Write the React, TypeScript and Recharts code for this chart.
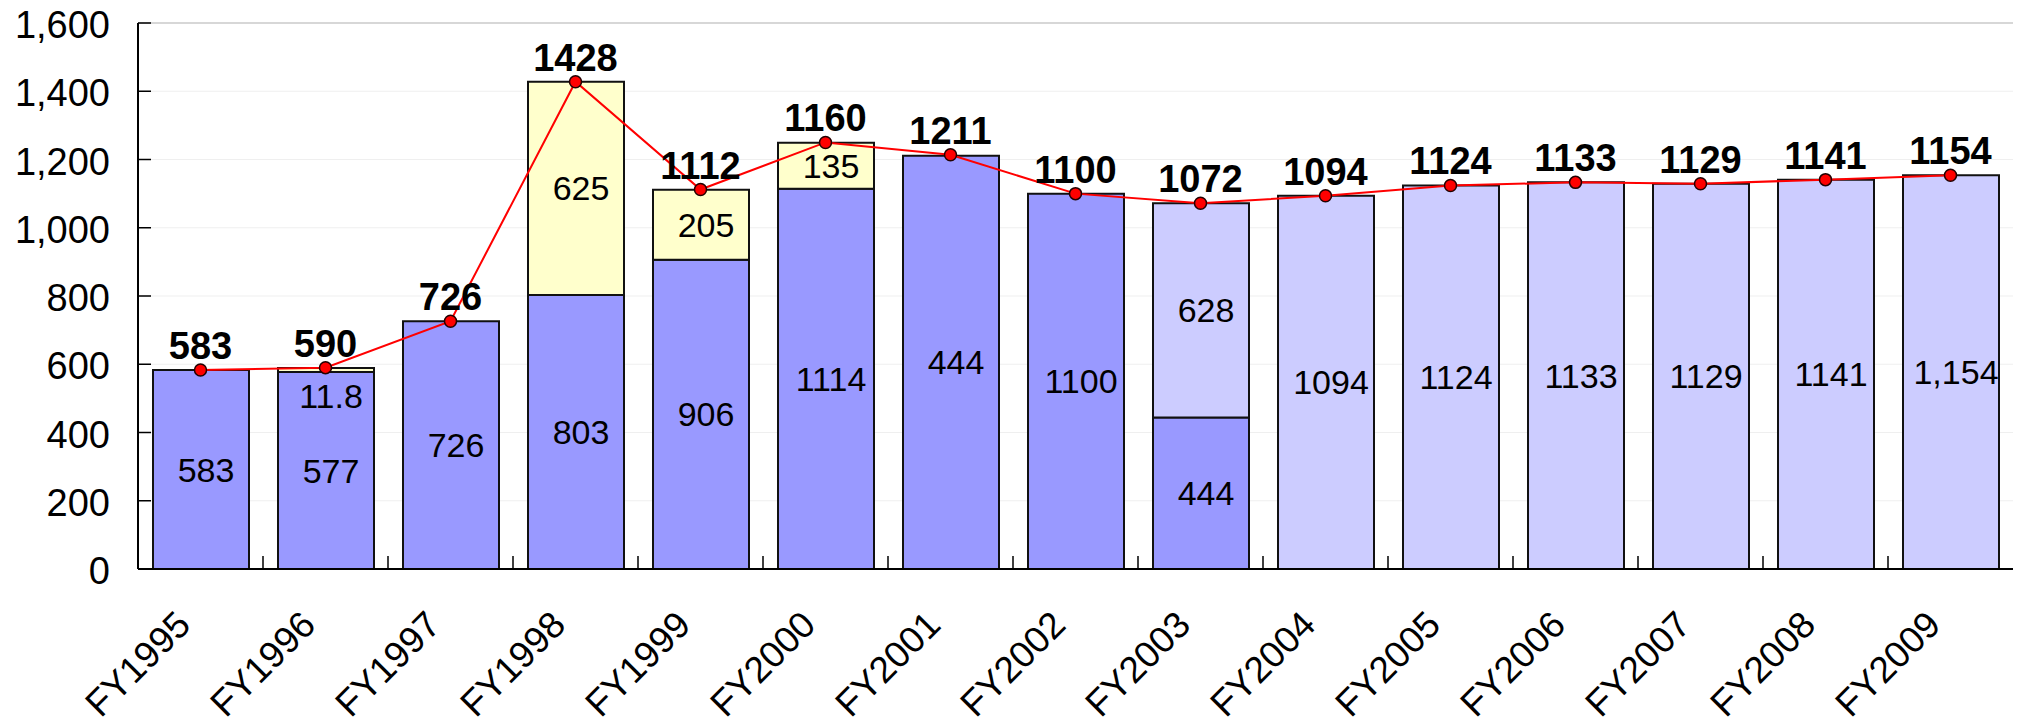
import React from 'react';
import {
  ComposedChart,
  Bar,
  Line,
  XAxis,
  YAxis,
  CartesianGrid,
  LabelList,
  ReferenceLine,
} from 'recharts';

const categories = [
  'FY1995', 'FY1996', 'FY1997', 'FY1998', 'FY1999', 'FY2000', 'FY2001', 'FY2002',
  'FY2003', 'FY2004', 'FY2005', 'FY2006', 'FY2007', 'FY2008', 'FY2009',
];

// dark blue segment
const baseValues: (number | null)[] = [583, 577, 726, 803, 906, 1114, 1211, 1100, 444, null, null, null, null, null, null];
const baseLabels = ['583', '577', '726', '803', '906', '1114', '444', '1100', '444', '', '', '', '', '', ''];

// pale yellow segment
const addedValues: (number | null)[] = [null, 11.8, null, 625, 205, 135, null, null, null, null, null, null, null, null, null];
const addedLabels = ['', '11.8', '', '625', '205', '135', '', '', '', '', '', '', '', '', ''];

// light lavender segment
const newValues: (number | null)[] = [null, null, null, null, null, null, null, null, 628, 1094, 1124, 1133, 1129, 1141, 1154];
const newLabels = ['', '', '', '', '', '', '', '', '628', '1094', '1124', '1133', '1129', '1141', '1,154'];

// red line
const totalValues = [583, 590, 726, 1428, 1112, 1250, 1214, 1100, 1072, 1094, 1124, 1133, 1129, 1141, 1154];
const totalLabels = ['583', '590', '726', '1428', '1112', '1160', '1211', '1100', '1072', '1094', '1124', '1133', '1129', '1141', '1154'];

const yTicks = [0, 200, 400, 600, 800, 1000, 1200, 1400, 1600];

const data = categories.map((c, i) => ({
  cat: c,
  base: baseValues[i],
  added: addedValues[i],
  fresh: newValues[i],
  total: totalValues[i],
  baseLabel: baseLabels[i],
  addedLabel: addedLabels[i],
  newLabel: newLabels[i],
  totalLabel: totalLabels[i],
}));

const CHART_W = 2037;
const CHART_H = 728;
const MARGIN = { top: 23, right: 24, bottom: 0, left: 0 };
const Y_AXIS_W = 138;
const PLOT_W = CHART_W - MARGIN.left - MARGIN.right - Y_AXIS_W;
const BAND = PLOT_W / categories.length;
const FONT = '"Liberation Sans", Arial, sans-serif';

const fmt = (v: number) => v.toLocaleString('en-US');

const YTick = (props: any) => {
  const { x, y, payload } = props;
  return (
    <g>
      <line x1={x} x2={x + 13} y1={y} y2={y} stroke="#000" strokeWidth={1.5} />
      <text x={x - 28} y={y + 15} textAnchor="end" fontSize={38} fontFamily={FONT} fill="#000">
        {fmt(payload.value)}
      </text>
    </g>
  );
};

const XTick = (props: any) => {
  const { x, y, payload, index } = props;
  const ax = x - 8;
  const ay = y + 58;
  return (
    <g>
      {index > 0 && (
        <line x1={x - BAND / 2} x2={x - BAND / 2} y1={y} y2={y - 13} stroke="#000" strokeWidth={1.5} />
      )}
      <text
        x={ax}
        y={ay}
        textAnchor="end"
        fontSize={37}
        fontFamily={FONT}
        fill="#000"
        transform={`rotate(-45, ${ax}, ${ay})`}
      >
        {payload.value}
      </text>
    </g>
  );
};

const innerLabel = (props: any) => {
  const { x, y, width, height, value } = props;
  if (!value) return null;
  const h = Math.abs(height);
  const top = Math.min(y, y + height);
  const cx = x + width / 2 + 5;
  const ty = h < 25 ? top + h + 36 : top + h / 2 + 12;
  return (
    <text x={cx} y={ty} textAnchor="middle" fontSize={34} fontFamily={FONT} fill="#000">
      {value}
    </text>
  );
};

const topLabel = (props: any) => {
  const { x, y, value } = props;
  return (
    <text x={x} y={y - 11} textAnchor="middle" fontSize={38} fontWeight="bold" fontFamily={FONT} fill="#000">
      {value}
    </text>
  );
};

export default function App() {
  return (
    <div style={{ position: 'absolute', left: 0, top: 0, width: CHART_W, height: CHART_H, fontFamily: FONT }}>
      <ComposedChart width={CHART_W} height={CHART_H} data={data} margin={MARGIN} barSize={96}>
        <CartesianGrid horizontal vertical={false} stroke="#efefef" strokeWidth={1} />
        <XAxis
          dataKey="cat"
          height={159}
          tickSize={0}
          tickMargin={0}
          tick={<XTick />}
          interval={0}
          axisLine={{ stroke: '#000', strokeWidth: 2 }}
        />
        <YAxis
          width={Y_AXIS_W}
          domain={[0, 1600]}
          ticks={yTicks}
          tickSize={0}
          tickMargin={0}
          tick={<YTick />}
          interval={0}
          axisLine={{ stroke: '#000', strokeWidth: 2 }}
        />
        <YAxis
          yAxisId="r"
          orientation="right"
          width={0}
          domain={[0, 1600]}
          tick={false}
          tickLine={false}
          axisLine={{ stroke: '#cccccc', strokeWidth: 1.5 }}
        />
        <ReferenceLine y={1600} stroke="#cccccc" strokeWidth={1.5} />
        <Bar dataKey="base" stackId="a" fill="#9999FF" stroke="#111" strokeWidth={2} isAnimationActive={false}>
          <LabelList dataKey="baseLabel" content={innerLabel} />
        </Bar>
        <Bar dataKey="added" stackId="a" fill="#FFFFCC" stroke="#111" strokeWidth={2} isAnimationActive={false}>
          <LabelList dataKey="addedLabel" content={innerLabel} />
        </Bar>
        <Bar dataKey="fresh" stackId="a" fill="#CCCCFF" stroke="#111" strokeWidth={2} isAnimationActive={false}>
          <LabelList dataKey="newLabel" content={innerLabel} />
        </Bar>
        <Line
          dataKey="total"
          type="linear"
          stroke="#FF0000"
          strokeWidth={2}
          dot={{ r: 6, fill: '#FF0000', stroke: '#220000', strokeWidth: 1.5 }}
          activeDot={false}
          isAnimationActive={false}
        >
          <LabelList dataKey="totalLabel" content={topLabel} />
        </Line>
      </ComposedChart>
    </div>
  );
}
